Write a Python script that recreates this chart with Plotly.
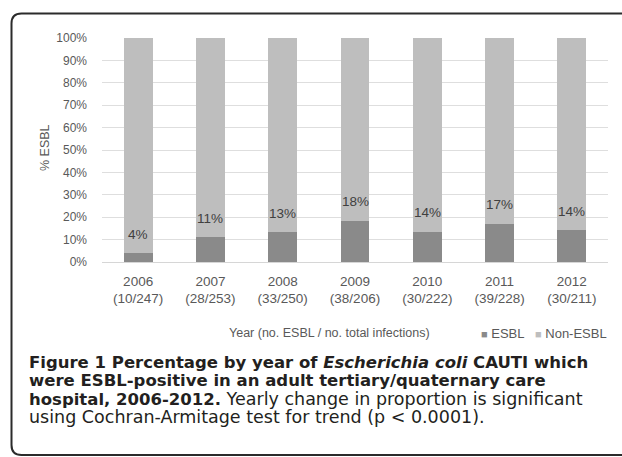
import plotly.graph_objects as go

# ---- data ----
years = ["2006", "2007", "2008", "2009", "2010", "2011", "2012"]
counts = ["(10/247)", "(28/253)", "(33/250)", "(38/206)", "(30/222)", "(39/228)", "(30/211)"]
esbl_pct = [4.0, 11.1, 13.2, 18.4, 13.5, 17.1, 14.2]
non_esbl_pct = [96.0, 88.9, 86.8, 81.6, 86.5, 82.9, 85.8]
bar_labels = ["4%", "11%", "13%", "18%", "14%", "17%", "14%"]
y_ticks = [0, 10, 20, 30, 40, 50, 60, 70, 80, 90, 100]
series_names = ["ESBL", "Non-ESBL"]

# ---- styling ----
W, H = 622, 457
ML, MR, MT, MB = 102, 14, 38, 195
PW, PH = W - ML - MR, H - MT - MB
NARROW = "Liberation Sans Narrow, Arial Narrow, Liberation Sans, Arial, sans-serif"
CAP = "DejaVu Sans, sans-serif"
DARK = "#8a8a8a"
LIGHT = "#bebebe"
TXT = "#595959"


def px(x):
    return (x - ML) / PW


def py(y):
    return (MT + PH - y) / PH


tick_text = [f"{y}<br>{c}" for y, c in zip(years, counts)]

fig = go.Figure()
fig.add_trace(go.Bar(x=years, y=esbl_pct, name=series_names[0], marker_color=DARK,
                     marker_line_width=0, hoverinfo="skip"))
fig.add_trace(go.Bar(x=years, y=non_esbl_pct, name=series_names[1], marker_color=LIGHT,
                     marker_line_width=0, hoverinfo="skip"))

annotations = []
for i, (v, lab) in enumerate(zip(esbl_pct, bar_labels)):
    annotations.append(dict(x=i, y=v, xref="x", yref="y", text=lab, showarrow=False,
                            yshift=19, yanchor="middle",
                            font=dict(family=NARROW, size=13.5, color="#404040")))

# y axis title
annotations.append(dict(x=px(45), y=py(148), xref="paper", yref="paper", text="% ESBL",
                        textangle=-90, showarrow=False, xanchor="center", yanchor="middle",
                        font=dict(family=NARROW, size=12.5, color=TXT)))
# x axis title
annotations.append(dict(x=px(329), y=py(333), xref="paper", yref="paper",
                        text="Year (no. ESBL / no. total infections)", showarrow=False,
                        xanchor="center", yanchor="middle",
                        font=dict(family=NARROW, size=12.5, color=TXT)))
# legend (drawn as text so it sits exactly where the reference has it)
for name, col, lx in zip(series_names, [DARK, LIGHT], [479, 533]):
    annotations.append(dict(x=px(lx), y=py(333), xref="paper", yref="paper",
                            text=f"<span style='color:{col};font-size:11px'>■</span> {name}",
                            showarrow=False, xanchor="left", yanchor="middle",
                            font=dict(family=NARROW, size=13, color=TXT)))

# caption: one text block; base size sets the tight line pitch, spans set glyph size
BOLD_PX, REG_PX = 16.5, 17.5
bs = f"<span style='font-size:{BOLD_PX}px'>"
rs = f"<span style='font-size:{REG_PX}px'>"
cap_lines = [
    f"{bs}<b>Figure 1 Percentage by year of </b><b><i>Escherichia coli</i></b><b> CAUTI which</b></span>",
    f"{bs}<b>were ESBL-positive in an adult tertiary/quaternary care</b></span>",
    f"{bs}<b>hospital, 2006-2012.</b></span>{rs} Yearly change in proportion is significant</span>",
    f"{rs}using Cochran-Armitage test for trend (p &lt; 0.0001).</span>",
]
annotations.append(dict(x=px(27), y=py(390), xref="paper", yref="paper",
                        text="<br>".join(cap_lines), align="left",
                        showarrow=False, xanchor="left", yanchor="middle",
                        font=dict(family=CAP, size=14.1, color="#231f20")))

# frame (rounded box, open to the right)
L, T, B, R, r = 11.5, 13.5, 455, 660, 10
path = (f"M {px(R)},{py(T)} L {px(L + r)},{py(T)} Q {px(L)},{py(T)} {px(L)},{py(T + r)} "
        f"L {px(L)},{py(B - r)} Q {px(L)},{py(B)} {px(L + r)},{py(B)} L {px(R)},{py(B)}")
shapes = [dict(type="path", path=path, xref="paper", yref="paper",
               line=dict(color="#2b2b2b", width=2))]

fig.update_layout(
    width=W, height=H,
    margin=dict(l=ML, r=MR, t=MT, b=MB, pad=0, autoexpand=False),
    paper_bgcolor="white", plot_bgcolor="white",
    barmode="stack", bargap=0.6,
    showlegend=False,
    annotations=annotations,
    shapes=shapes,
    xaxis=dict(type="category", tickmode="array", tickvals=years, ticktext=tick_text,
               tickfont=dict(family=NARROW, size=13.5, color=TXT), automargin=False,
               showline=False, ticks="", showgrid=False, zeroline=False,
               range=[-0.5, 6.5], ticklabelstandoff=9),
    yaxis=dict(range=[0, 100], tickmode="array", tickvals=y_ticks,
               ticktext=[f"{t}%" for t in y_ticks], automargin=False,
               tickfont=dict(family=NARROW, size=12, color=TXT),
               showgrid=True, gridcolor="#dedede", gridwidth=1,
               zeroline=True, zerolinecolor="#d6d6d6", zerolinewidth=1,
               showline=False, ticks="", ticklabelstandoff=14),
)

fig.write_html("out.html", config={"displayModeBar": False},
               post_script="document.body.style.margin='0';")
